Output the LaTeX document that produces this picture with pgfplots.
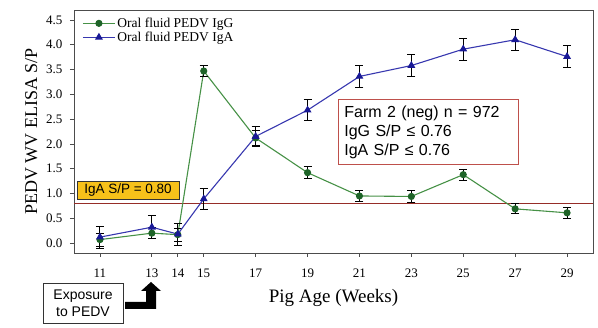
\documentclass[border=0pt]{standalone}
\usepackage{fontspec}
\setmainfont{Liberation Serif}
\newfontfamily\arial{Liberation Sans}
\usepackage{pgfplots}
\pgfplotsset{compat=1.18}
\definecolor{igg}{RGB}{70,145,70}
\definecolor{iggm}{RGB}{30,100,40}
\definecolor{iga}{RGB}{55,55,175}
\definecolor{igam}{RGB}{25,25,150}
\definecolor{cutline}{RGB}{150,45,40}
\definecolor{gold}{RGB}{247,193,26}
\definecolor{farmbd}{RGB}{190,80,75}
\begin{document}
\begin{tikzpicture}[x=1pt,y=1pt]
\useasboundingbox (0,0) rectangle (598,328);
\begin{axis}[
  at={(74pt,75pt)}, anchor=south west,
  scale only axis, width=519pt, height=243pt,
  xmin=10, xmax=30, ymin=-0.2, ymax=4.7,
  xtick={11,13,14,15,17,19,21,23,25,27,29},
  ytick={0,0.5,1,1.5,2,2.5,3,3.5,4,4.5},
  yticklabel style={/pgf/number format/fixed,/pgf/number format/fixed zerofill,/pgf/number format/precision=1, xshift=-4pt},
  /pgf/number format/assume math mode=true,
  ticklabel style={font=\fontsize{13}{13}\selectfont},
  tick align=outside, xtick pos=lower, ytick pos=left,
  major tick length=4pt,
  axis line style={black!70, line width=0.8pt},
  tick style={black!70, line width=0.7pt},
  xticklabel style={yshift=-8pt},
  xlabel={Pig Age (Weeks)},
  ylabel={PEDV WV ELISA S/P},
  xlabel style={font=\fontsize{19}{19}\selectfont, yshift=-5pt},
  ylabel style={font=\fontsize{18}{18}\selectfont, yshift=2pt},
  legend style={at={(0.01,0.985)}, anchor=north west, draw=none, fill=none,
    font=\fontsize{13.5}{14}\selectfont, row sep=-1pt},
  legend cell align=left,
  legend image code/.code={\draw[mark repeat=2,mark phase=2] plot coordinates {(0pt,0pt) (16pt,0pt) (32pt,0pt)};},
  error bars/error bar style={black, line width=0.9pt},
  error bars/error mark options={rotate=90, mark size=4pt, black, line width=0.9pt},
]
\addplot[cutline, line width=0.9pt, forget plot] coordinates {(10,0.8) (30,0.8)};
\addplot[igg, line width=1.1pt, mark=*, mark size=3pt, mark options={fill=iggm, draw=iggm},
  error bars/.cd, y dir=both, y explicit] coordinates {
  (11,0.07) +- (0,0.13)
  (13,0.20) +- (0,0.11)
  (14,0.17) +- (0,0.13)
  (15,3.47) +- (0,0.11)
  (17,2.12) +- (0,0.15)
  (19,1.42) +- (0,0.12)
  (21,0.95) +- (0,0.12)
  (23,0.94) +- (0,0.12)
  (25,1.38) +- (0,0.11)
  (27,0.69) +- (0,0.10)
  (29,0.61) +- (0,0.11)
};
\addlegendentry{Oral fluid PEDV IgG}
\addplot[iga, line width=1.1pt, mark=triangle*, mark size=3.5pt, mark options={fill=igam, draw=igam},
  error bars/.cd, y dir=both, y explicit] coordinates {
  (11,0.12) +- (0,0.22)
  (13,0.32) +- (0,0.23)
  (14,0.18) +- (0,0.22)
  (15,0.89) +- (0,0.21)
  (17,2.15) +- (0,0.20)
  (19,2.68) +- (0,0.21)
  (21,3.36) +- (0,0.22)
  (23,3.58) +- (0,0.22)
  (25,3.91) +- (0,0.22)
  (27,4.10) +- (0,0.21)
  (29,3.76) +- (0,0.22)
};
\addlegendentry{Oral fluid PEDV IgA}
\end{axis}
% annotation boxes
\node[draw=black!80, fill=gold, line width=0.6pt, minimum width=102pt, minimum height=18pt,
  inner sep=0pt, font=\arial\fontsize{13.5}{13.5}\selectfont] at (128,138) {IgA S/P = 0.80};
\node[draw=farmbd, fill=white, line width=0.8pt, minimum width=180pt, minimum height=65pt,
  inner sep=6pt, align=left, anchor=north west, font=\arial\fontsize{16}{19}\selectfont,
  text width=168pt] at (338,229) {Farm 2 (neg) n = 972\\IgG S/P ≤ 0.76\\IgA S/P ≤ 0.76};
\node[draw=black!80, line width=0.7pt, minimum width=80pt, minimum height=40pt,
  inner sep=0pt, align=center, font=\arial\fontsize{14}{17}\selectfont] at (83,25) {Exposure\\to PEDV};
\fill[black] (125,19) -- (156,19) -- (156,37) -- (161,37) -- (151,46) -- (141,37) -- (146,37)
  -- (146,26) -- (125,26) -- cycle;
\end{tikzpicture}
\end{document}
